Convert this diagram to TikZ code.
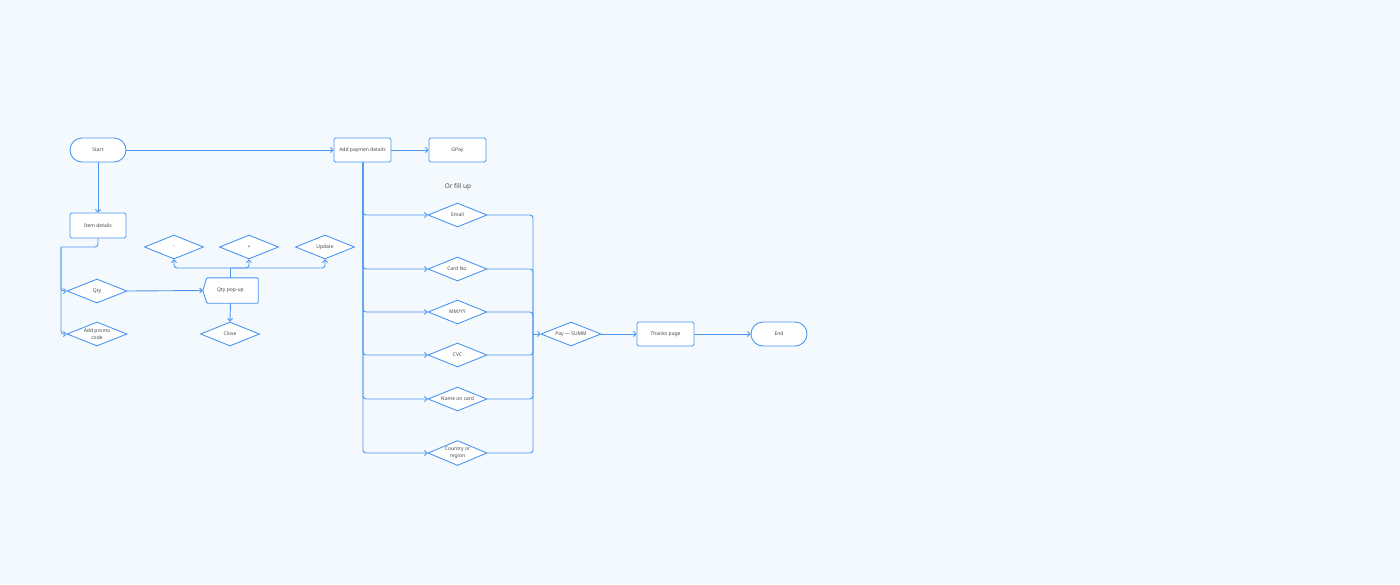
\documentclass[tikz,border=0pt]{standalone}
\usepackage{fontspec}
\setmainfont{Noto Sans}
\usetikzlibrary{shapes.geometric,arrows.meta}
\definecolor{bg}{HTML}{F4F9FD}
\definecolor{ln}{HTML}{4A96F0}
\definecolor{tx}{HTML}{4A4A4A}
\tikzset{
  box/.style={draw=ln, fill=white, line width=0.9pt, rounded corners=1.5pt, minimum width=57pt, minimum height=24pt, inner sep=0pt, font=\fontsize{5}{6}\selectfont, text=tx},
  term/.style={draw=ln, fill=white, line width=0.9pt, rounded corners=12pt, minimum width=56pt, minimum height=24pt, inner sep=0pt, font=\fontsize{5}{6}\selectfont, text=tx},
  dia/.style={shape=diamond, shape aspect=2.4, draw=ln, fill=white, line width=0.9pt, minimum width=59pt, minimum height=24pt, inner sep=0pt, font=\fontsize{5}{7}\selectfont, text=tx, align=center},
  plain/.style={inner sep=0pt, font=\fontsize{5}{6}\selectfont, text=tx},
  conn/.style={draw=ln, line width=0.9pt, rounded corners=3pt},
  arr/.style={conn, -{Straight Barb[length=2.5pt,width=5pt]}},
}
\begin{document}
\begin{tikzpicture}[x=1pt,y=-1pt]
\fill[bg] (0,0) rectangle (1400,584);
\useasboundingbox (0,0) rectangle (1400,584);

% nodes
\node[term] (start) at (98,150) {Start};
\node[box] (addpay) at (362.5,150) {Add paymen details};
\node[box] (gpay) at (457.5,150) {GPay};
\node[inner sep=0pt, font=\fontsize{6.5}{8}\selectfont, text=tx] (orfill) at (458,187) {Or fill up};
\node[box, minimum width=56pt, minimum height=25pt] (item) at (98,225.5) {Item details};
\node[dia] (minus) at (174,247) {-};
\node[dia] (plus) at (249,247) {+};
\node[dia] (update) at (325,247) {Update};
\node[dia, minimum width=60pt] (qty) at (97,291) {Qty};
\node[plain, minimum width=55pt, minimum height=25pt] (popup) at (230.5,290.5) {};
\draw[draw=ln, fill=white, line width=0.9pt, rounded corners=1pt]
  ([xshift=4pt]popup.north west) -- (popup.north east) -- (popup.south east)
  -- ([xshift=4pt]popup.south west) -- (popup.west) -- cycle;
\node[plain] at (popup.center) {Qty pop-up};
\node[dia] (close) at (230,334) {Close};
\node[dia, minimum width=60pt] (promo) at (97,334) {Add promo\\code};

\node[dia] (email) at (457.5,215) {Email};
\node[dia] (card) at (457.5,269) {Card No.};
\node[dia] (mmyy) at (457.5,312) {MM/YY};
\node[dia] (cvc) at (457.5,355) {CVC};
\node[dia] (name) at (457.5,399) {Name on card};
\node[dia, minimum height=25pt] (country) at (457.5,453) {Country or\\region};

\node[dia, minimum width=60pt] (pay) at (571,334) {Pay — SUMM};
\node[box] (thanks) at (665.5,334) {Thanks page};
\node[term] (endn) at (779,334) {End};

% coordinates
\coordinate (lb) at (61,247);
\coordinate (pt) at (230.5,268);
\coordinate (rt) at (533,334);

% connectors
\draw[arr] (start.east) -- (addpay.west);
\draw[arr] (start.south) -- (item.north);
\draw[conn] (item.south) |- (lb);
\draw[arr] (lb) |- (qty.west);
\draw[arr] (lb) |- (promo.west);
\draw[arr] (qty.east) -- (popup.west);
\draw[conn] (popup.north) -- (pt);
\draw[arr] (pt) -| (minus.south);
\draw[arr] (pt) -| (plus.south);
\draw[arr] (pt) -| (update.south);
\draw[arr] (popup.south) -- (close.north);

\draw[arr] (addpay.east) -- (gpay.west);
\foreach \n in {email,card,mmyy,cvc,name,country}{
  \draw[arr] ([xshift=0.5pt]addpay.south) |- (\n.west);
  \draw[conn] (\n.east) -| (rt);
}
\draw[arr] (rt) -- (pay.west);
\draw[arr] (pay.east) -- (thanks.west);
\draw[arr] (thanks.east) -- (endn.west);
\end{tikzpicture}
\end{document}
